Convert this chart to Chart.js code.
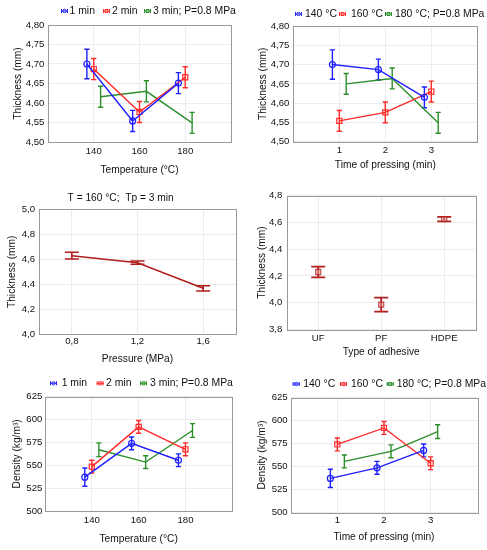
<!DOCTYPE html>
<html><head><meta charset="utf-8">
<script src="https://cdn.jsdelivr.net/npm/chart.js@4.4.1/dist/chart.umd.min.js"></script>
<style>
html,body{margin:0;padding:0;background:#fff;}
#wrap{position:relative;width:487px;height:550px;overflow:hidden;}
canvas{position:absolute;}
</style></head><body>
<div id="wrap">
<canvas id="c1"></canvas><canvas id="c2"></canvas><canvas id="c3"></canvas>
<canvas id="c4"></canvas><canvas id="c5"></canvas><canvas id="c6"></canvas>
</div>
<script>
// ---------- DATA ----------
const temperatures = [140, 160, 180];
const pressingTimes = [1, 2, 3];
const pressures = [0.8, 1.2, 1.6];
const adhesives = ['UF', 'PF', 'HDPE'];

// Thickness vs temperature (series = time of pressing)
const thick_1min = [4.700, 4.554, 4.651];
const thick_2min = [4.687, 4.577, 4.666];
const thick_3min = [4.616, 4.630, 4.549];
const thickErr_1min = [0.038, 0.027, 0.027];
const thickErr_2min = [0.027, 0.027, 0.027];
const thickErr_3min = [0.027, 0.027, 0.027];

// Thickness vs time of pressing (series = temperature)
const thick_140C = [4.700, 4.687, 4.615];
const thick_160C = [4.554, 4.576, 4.630];
const thick_180C = [4.650, 4.664, 4.549];
const thickErr_140C = [0.038, 0.027, 0.027];
const thickErr_160C = [0.027, 0.027, 0.027];
const thickErr_180C = [0.027, 0.027, 0.027];

// Thickness vs pressure
const thick_pressure = [4.629, 4.573, 4.368];
const thickErr_pressure = [0.027, 0.013, 0.021];

// Thickness vs adhesive
const thick_adhesive = [4.229, 3.985, 4.625];
const thickErr_adhesive = [0.040, 0.052, 0.017];

// Density vs temperature (series = time of pressing)
const dens_1min = [537, 574, 555.5];
const dens_2min = [548.5, 592, 567.5];
const dens_3min = [567, 553.5, 588];
const densErr_1min = [10, 7, 7];
const densErr_2min = [7, 7, 7];
const densErr_3min = [7.5, 7, 7.5];

// Density vs time of pressing (series = temperature)
const dens_140C = [537, 548.5, 567.5];
const dens_160C = [574, 592, 553.5];
const dens_180C = [555.5, 566.5, 588];
const densErr_140C = [10, 7, 7];
const densErr_160C = [7, 7, 7];
const densErr_180C = [7, 7, 7.5];

// Tick values
const thickTicks = [4.50, 4.55, 4.60, 4.65, 4.70, 4.75, 4.80];
const pressThickTicks = [4.0, 4.2, 4.4, 4.6, 4.8, 5.0];
const adhThickTicks = [3.8, 4.0, 4.2, 4.4, 4.6, 4.8];
const densTicks = [500, 525, 550, 575, 600, 625];

// ---------- STYLE ----------
const FONT = "'Liberation Sans', Arial, Helvetica, sans-serif";
const BLUE = '#1f1fff', RED = '#ff2a2a', GREEN = '#2b8f2b', DARKRED = '#b01e1e';
const TEXT = '#111';
const fmt = d => v => Number(v).toFixed(d).replace('.', ',');

function build(id, box, g, o) {
  const [x0, y0, w, h] = box;
  const cv = document.getElementById(id);
  cv.width = w; cv.height = h;
  cv.style.left = x0 + 'px'; cv.style.top = y0 + 'px';
  const tickSize = 9.6, titleSize = 10.2, legSize = 10.4;
  const tickLH = tickSize * 1.2, titleLH = titleSize * 1.2;

  const plugin = {
    id: 'custom_' + id,
    beforeDatasetsDraw(chart) {
      const ctx = chart.ctx, a = chart.chartArea, ys = chart.scales.y;
      ctx.save();
      ctx.strokeStyle = '#999'; ctx.lineWidth = 1;
      ctx.strokeRect(Math.round(a.left) + 0.5, Math.round(a.top) + 0.5,
        Math.round(a.right - a.left), Math.round(a.bottom - a.top));
      chart.data.datasets.forEach((ds, i) => {
        if (!ds.errors) return;
        const meta = chart.getDatasetMeta(i);
        ctx.strokeStyle = ds.borderColor; ctx.lineWidth = ds.errWidth || 1.4;
        const c = ds.capHalf || 2.6;
        meta.data.forEach((pt, j) => {
          const v = ds.data[j].y !== undefined ? ds.data[j].y : ds.data[j];
          const e = ds.errors[j];
          const y1 = ys.getPixelForValue(v + e), y2 = ys.getPixelForValue(v - e);
          const x = pt.x;
          ctx.beginPath();
          ctx.moveTo(x, y1); ctx.lineTo(x, y2);
          ctx.moveTo(x - c, y1); ctx.lineTo(x + c, y1);
          ctx.moveTo(x - c, y2); ctx.lineTo(x + c, y2);
          ctx.stroke();
        });
      });
      ctx.restore();
    },
    afterDraw(chart) {
      const ctx = chart.ctx;
      ctx.save();
      ctx.textBaseline = 'middle';
      ctx.fillStyle = TEXT;
      if (o.legend) {
        ctx.font = legSize + 'px ' + FONT;
        const y = o.legend.y - y0;
        o.legend.items.forEach(it => {
          const ix = it.ix - x0;
          ctx.strokeStyle = it.color; ctx.lineWidth = 1;
          ctx.beginPath();
          ctx.moveTo(ix, y); ctx.lineTo(ix + 7, y);
          ctx.moveTo(ix + 0.5, y - 2); ctx.lineTo(ix + 0.5, y + 2);
          ctx.moveTo(ix + 6.5, y - 2); ctx.lineTo(ix + 6.5, y + 2);
          ctx.stroke();
          ctx.beginPath();
          if (it.marker === 'circle') ctx.arc(ix + 3.5, y, 1.7, 0, Math.PI * 2);
          else ctx.rect(ix + 2, y - 1.5, 3, 3);
          ctx.stroke();
          ctx.fillStyle = TEXT;
          ctx.textAlign = 'left';
          ctx.fillText(it.text, it.tx - x0, y);
        });
      }
      if (o.title) {
        ctx.font = titleSize + 'px ' + FONT;
        ctx.textAlign = 'center';
        ctx.fillText(o.title.text, o.title.x - x0, o.title.y - y0);
      }
      ctx.restore();
    }
  };

  let xScale;
  if (o.xLabels) {
    xScale = { type: 'category', labels: o.xLabels, offset: true };
  } else {
    xScale = {
      type: 'linear', min: o.xMin, max: o.xMax,
      afterBuildTicks: s => { s.ticks = o.xTicks.map(v => ({ value: v })); },
      ticks: { callback: fmt(o.xDec) }
    };
  }
  Object.assign(xScale, {
    afterFit: s => { s.height = y0 + h - g.B; },
    grid: { color: '#ececec', drawTicks: false, offset: false },
    border: { display: false },
    title: { display: true, text: o.xTitle, color: TEXT,
      font: { family: FONT, size: titleSize, lineHeight: 1.2 },
      padding: { top: 0, bottom: y0 + h - g.xTitleY - titleLH / 2 } }
  });
  xScale.ticks = Object.assign(xScale.ticks || {}, {
    color: TEXT, font: { family: FONT, size: tickSize, lineHeight: 1.2 },
    padding: g.xTickY - g.B - tickLH / 2, maxRotation: 0, autoSkip: false
  });

  const yScale = {
    type: 'linear', min: o.yTicks[0], max: o.yTicks[o.yTicks.length - 1],
    afterBuildTicks: s => { s.ticks = o.yTicks.map(v => ({ value: v })); },
    afterFit: s => { s.width = g.L - x0; },
    grid: { color: '#ececec', drawTicks: false },
    border: { display: false },
    ticks: { callback: fmt(o.yDec), color: TEXT,
      font: { family: FONT, size: tickSize, lineHeight: 1.2 },
      padding: g.L - g.yTickRight },
    title: { display: true, text: o.yTitle, color: TEXT,
      font: { family: FONT, size: titleSize, lineHeight: 1.2 },
      padding: { top: g.yTitleX - x0 - titleLH / 2, bottom: 0 } }
  };

  return new Chart(cv, {
    type: 'line',
    data: { datasets: o.datasets },
    options: {
      responsive: false, animation: false, events: [],
      layout: { padding: { top: g.T - y0, right: x0 + w - g.R, left: 0, bottom: 0 } },
      plugins: { legend: { display: false }, tooltip: { enabled: false } },
      scales: { x: xScale, y: yScale }
    },
    plugins: [plugin]
  });
}

function series(xs, off, vals, errs, color, style, extra) {
  return Object.assign({
    data: xs.map((x, i) => ({ x: x + off, y: vals[i] })),
    errors: errs,
    borderColor: color, backgroundColor: 'transparent',
    pointBackgroundColor: 'transparent', pointBorderColor: color,
    pointStyle: style || 'circle', pointRadius: style === false ? 0 : (style === 'rect' ? 3.6 : 3),
    pointBorderWidth: 1.2, borderWidth: 1.4, tension: 0
  }, extra || {});
}

// Panel 1: thickness vs temperature
build('c1', [0, 0, 245, 185],
  { L: 48, T: 25, R: 231, B: 142, yTitleX: 18.3, yTickRight: 44.3, xTickY: 151.7, xTitleY: 170 },
  { xMin: 120, xMax: 200, xTicks: temperatures, xDec: 0, yTicks: thickTicks, yDec: 2,
    xTitle: 'Temperature (°C)', yTitle: 'Thickness (mm)',
    legend: { y: 11, items: [
      { ix: 61, tx: 69.5, color: BLUE, marker: 'circle', text: '1 min' },
      { ix: 103, tx: 112, color: RED, marker: 'rect', text: '2 min' },
      { ix: 144, tx: 153, color: GREEN, marker: 'rect', text: '3 min; P=0.8 MPa' } ] },
    datasets: [
      series(temperatures, -3, thick_1min, thickErr_1min, BLUE, 'circle'),
      series(temperatures, 0, thick_2min, thickErr_2min, RED, 'rect'),
      series(temperatures, 3, thick_3min, thickErr_3min, GREEN, false)
    ] });

// Panel 2: thickness vs time of pressing
build('c2', [245, 0, 242, 185],
  { L: 293.3, T: 26, R: 477.3, B: 141.7, yTitleX: 263.3, yTickRight: 289.3, xTickY: 150.7, xTitleY: 165 },
  { xMin: 0, xMax: 4, xTicks: pressingTimes, xDec: 0, yTicks: thickTicks, yDec: 2,
    xTitle: 'Time of pressing (min)', yTitle: 'Thickness (mm)',
    legend: { y: 14, items: [
      { ix: 295, tx: 305, color: BLUE, marker: 'circle', text: '140 °C' },
      { ix: 339, tx: 351, color: RED, marker: 'rect', text: '160 °C' },
      { ix: 385, tx: 395, color: GREEN, marker: 'rect', text: '180 °C; P=0.8 MPa' } ] },
    datasets: [
      series(pressingTimes, -0.15, thick_140C, thickErr_140C, BLUE, 'circle'),
      series(pressingTimes, 0, thick_160C, thickErr_160C, RED, 'rect'),
      series(pressingTimes, 0.15, thick_180C, thickErr_180C, GREEN, false)
    ] });

// Panel 3: thickness vs pressure
build('c3', [0, 185, 245, 180],
  { L: 39, T: 209.3, R: 236, B: 334.3, yTitleX: 12, yTickRight: 35, xTickY: 341.7, xTitleY: 359 },
  { xMin: 0.6, xMax: 1.8, xTicks: pressures, xDec: 1, yTicks: pressThickTicks, yDec: 1,
    xTitle: 'Pressure (MPa)', yTitle: 'Thickness (mm)',
    title: { text: 'T = 160 °C;  Tp = 3 min', x: 120.6, y: 198 },
    datasets: [
      series(pressures, 0, thick_pressure, thickErr_pressure, DARKRED, false,
        { borderWidth: 1.6, errWidth: 1.6, capHalf: 7 })
    ] });

// Panel 4: thickness vs type of adhesive
build('c4', [245, 185, 242, 180],
  { L: 286.7, T: 195.7, R: 475.7, B: 329.3, yTitleX: 261.7, yTickRight: 282.3, xTickY: 338.3, xTitleY: 351.7 },
  { xLabels: adhesives, yTicks: adhThickTicks, yDec: 1,
    xTitle: 'Type of adhesive', yTitle: 'Thickness (mm)',
    datasets: [{
      data: thick_adhesive, errors: thickErr_adhesive,
      borderColor: DARKRED, backgroundColor: 'transparent', showLine: false,
      pointStyle: 'rect', pointRadius: 3.6, pointBorderWidth: 1.2,
      pointBorderColor: 'rgba(176,30,30,0.75)', pointBackgroundColor: 'rgba(230,150,150,0.5)',
      errWidth: 1.8, capHalf: 7
    }] });

// Panel 5: density vs temperature
build('c5', [0, 365, 245, 185],
  { L: 45, T: 396.7, R: 232.3, B: 511, yTitleX: 16.7, yTickRight: 42.3, xTickY: 520, xTitleY: 539 },
  { xMin: 120, xMax: 200, xTicks: temperatures, xDec: 0, yTicks: densTicks, yDec: 0,
    xTitle: 'Temperature (°C)', yTitle: 'Density (kg/m³)',
    legend: { y: 383.3, items: [
      { ix: 50, tx: 61.7, color: BLUE, marker: 'circle', text: '1 min' },
      { ix: 96.7, tx: 106, color: RED, marker: 'rect', text: '2 min' },
      { ix: 140, tx: 150, color: GREEN, marker: 'rect', text: '3 min; P=0.8 MPa' } ] },
    datasets: [
      series(temperatures, -3, dens_1min, densErr_1min, BLUE, 'circle'),
      series(temperatures, 0, dens_2min, densErr_2min, RED, 'rect'),
      series(temperatures, 3, dens_3min, densErr_3min, GREEN, false)
    ] });

// Panel 6: density vs time of pressing
build('c6', [245, 365, 242, 185],
  { L: 290.7, T: 397.7, R: 477.3, B: 512.3, yTitleX: 262.3, yTickRight: 287.7, xTickY: 520, xTitleY: 537 },
  { xMin: 0, xMax: 4, xTicks: pressingTimes, xDec: 0, yTicks: densTicks, yDec: 0,
    xTitle: 'Time of pressing (min)', yTitle: 'Density (kg/m³)',
    legend: { y: 384, items: [
      { ix: 292.7, tx: 303.3, color: BLUE, marker: 'circle', text: '140 °C' },
      { ix: 340, tx: 351, color: RED, marker: 'rect', text: '160 °C' },
      { ix: 386.7, tx: 396.7, color: GREEN, marker: 'rect', text: '180 °C; P=0.8 MPa' } ] },
    datasets: [
      series(pressingTimes, -0.15, dens_140C, densErr_140C, BLUE, 'circle'),
      series(pressingTimes, 0, dens_160C, densErr_160C, RED, 'rect'),
      series(pressingTimes, 0.15, dens_180C, densErr_180C, GREEN, false)
    ] });
</script>
</body></html>
